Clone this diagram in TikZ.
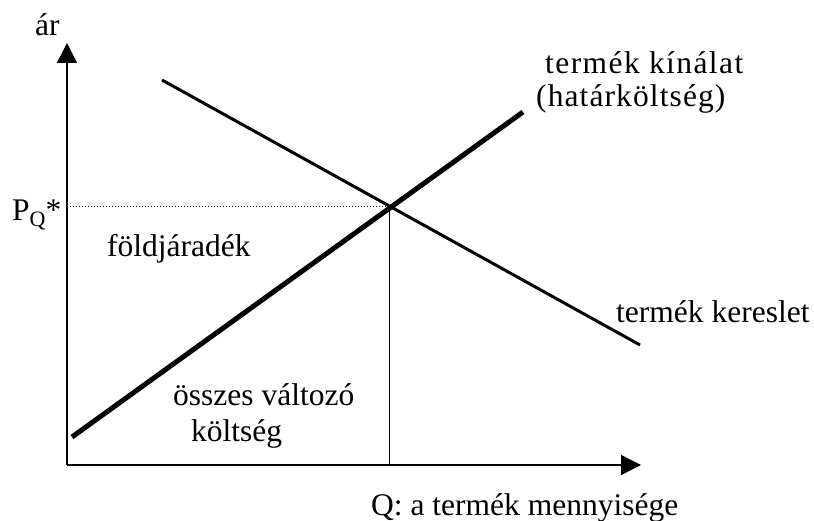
\documentclass[tikz,border=0pt]{standalone}
\usepackage{fontspec}
\setmainfont{Liberation Serif}
\usetikzlibrary{arrows.meta}
\begin{document}
\begin{tikzpicture}[x=1pt,y=-1pt,
  lbl/.style={anchor=base west,inner sep=0pt,font=\fontsize{31.5}{36}\selectfont},
  axis/.style={line width=1.3pt,-{Triangle[length=20pt,width=20pt]}},
  supply/.style={line width=5pt},
  demand/.style={line width=3pt},
  guide/.style={line width=1pt}]
\useasboundingbox (0,0) rectangle (814,521);
\coordinate (O) at (67,465);
\coordinate (Ytip) at (67,43);
\coordinate (Xtip) at (641,465);
\coordinate (S1) at (72,437);
\coordinate (S2) at (523,112);
\coordinate (D1) at (162,80);
\coordinate (D2) at (640,345);
\coordinate (E) at (389,207);
\coordinate (PY) at (67,207);
\draw[axis] (O) -- (Ytip);
\draw[axis] (O) -- (Xtip);
\draw[guide,dash pattern=on 1pt off 2pt] (PY) -- (E);
\draw[guide] (E) -- (E |- O);
\draw[demand] (D1) -- (D2);
\draw[supply] (S1) -- (S2);
\node[lbl] (ar) at (35,36) {ár};
\node[lbl] (pq) at (12,221) {P\raisebox{-6pt}{\fontsize{22}{22}\selectfont Q}*};
\node[lbl] (kin1) at (545,74) {\addfontfeature{LetterSpace=4.5}termék kínálat};
\node[lbl] (kin2) at (536,107) {\addfontfeature{LetterSpace=3.5}(határköltség)};
\node[lbl] (ker) at (616,323) {termék kereslet};
\node[lbl] (fold) at (107,257) {földjáradék};
\node[lbl] (ossz1) at (173,405) {összes változó};
\node[lbl] (ossz2) at (191,441) {költség};
\node[lbl] (q) at (371,515) {Q: a termék mennyisége};
\end{tikzpicture}
\end{document}
